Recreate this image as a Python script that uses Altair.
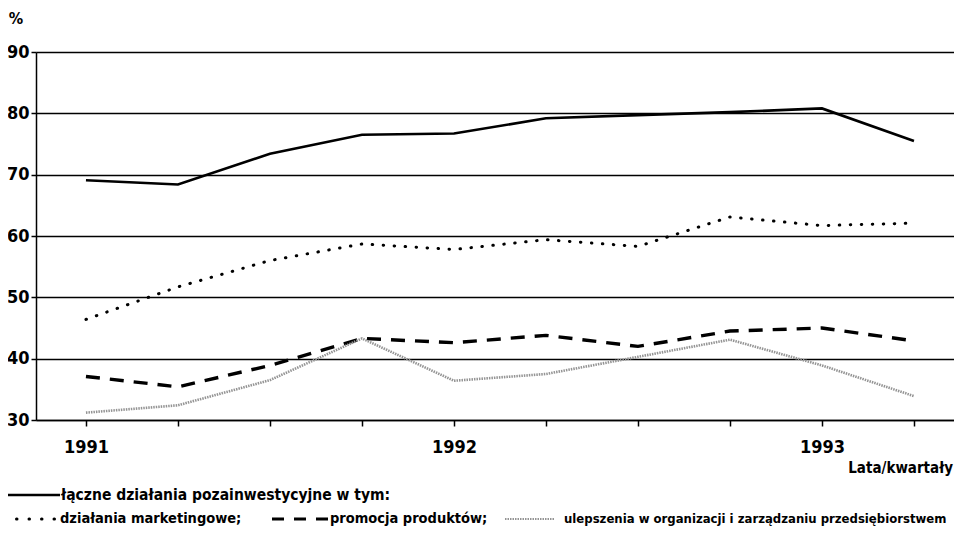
import altair as alt
import pandas as pd

quarters = list(range(10))  # 1991 Q1 ... 1993 Q2

total = [69.1, 68.4, 73.4, 76.5, 76.7, 79.2, 79.7, 80.2, 80.8, 75.5]
marketing = [46.4, 51.7, 56.0, 58.7, 57.8, 59.4, 58.3, 63.1, 61.7, 62.1]
promotion = [37.1, 35.4, 38.9, 43.3, 42.6, 43.8, 42.0, 44.5, 45.0, 42.9]
improvement = [31.2, 32.4, 36.5, 43.3, 36.4, 37.5, 40.3, 43.1, 38.9, 33.9]

legend_labels = [
    "łączne działania pozainwestycyjne w tym:",
    "działania marketingowe;",
    "promocja produktów;",
    "ulepszenia w organizacji i zarządzaniu przedsiębiorstwem",
]

FONT = "DejaVu Sans Condensed, DejaVu Sans, sans-serif"
W, H = 918, 368

x_scale = alt.Scale(domain=[-0.543, 9.435], nice=False, zero=False)
y_scale = alt.Scale(domain=[30, 90], nice=False, zero=False)

label_expr = "datum.value == 0 ? '1991' : datum.value == 4 ? '1992' : datum.value == 8 ? '1993' : ''"

x_enc = alt.X("q:Q", scale=x_scale, axis=alt.Axis(
    values=quarters, labelExpr=label_expr, title=None, grid=False,
    tickSize=6, tickWidth=1.5, tickColor="black", domainColor="black", domainWidth=1.5,
    labelFont=FONT, labelFontSize=18, labelFontWeight="bold", labelColor="black",
    labelPadding=12, labelFlush=False))
y_enc = alt.Y("v:Q", scale=y_scale, axis=alt.Axis(
    values=[30, 40, 50, 60, 70, 80, 90], title=None, grid=True,
    gridColor="black", gridWidth=1.5, gridOpacity=1,
    tickSize=5, tickWidth=1.5, tickColor="black", domainColor="black", domainWidth=1.5,
    labelFont=FONT, labelFontSize=18, labelFontWeight="bold", labelColor="black",
    labelPadding=2))


def series(vals):
    return pd.DataFrame({"q": quarters, "v": vals})


l_total = alt.Chart(series(total)).mark_line(color="black", strokeWidth=2.6).encode(x=x_enc, y=y_enc)
l_mark = alt.Chart(series(marketing)).mark_line(
    color="black", strokeWidth=3, strokeDash=[0.5, 10.5], strokeCap="round").encode(x="q:Q", y="v:Q")
l_prom = alt.Chart(series(promotion)).mark_line(
    color="black", strokeWidth=3.4, strokeDash=[14, 10]).encode(x="q:Q", y="v:Q")
l_impr = alt.Chart(series(improvement)).mark_line(
    color="#949494", strokeWidth=2.6, strokeDash=[1.5, 1]).encode(x="q:Q", y="v:Q")

# Offsets: plot origin sits at page (36, 52)
ox, oy = 36, 52


def txt(s, px, py, align="left", size=15):
    return alt.Chart(pd.DataFrame({"t": [s]})).mark_text(
        align=align, baseline="middle", font=FONT, fontSize=size, fontWeight="bold", color="black"
    ).encode(x=alt.value(px - ox), y=alt.value(py - oy), text="t:N")


def sample(x1, x2, py, **kw):
    return alt.Chart(pd.DataFrame({"a": [0]})).mark_rule(**kw).encode(
        x=alt.value(x1 - ox), x2=alt.value(x2 - ox), y=alt.value(py - oy))


leg = [
    sample(5, 60, 495, color="black", strokeWidth=2.6),
    txt(legend_labels[0], 61, 495, size=15.5),
    sample(4, 56, 519, color="black", strokeWidth=3, strokeDash=[0.5, 12], strokeCap="round"),
    txt(legend_labels[1], 60, 519, size=14.5),
    sample(272, 328, 519, color="black", strokeWidth=3, strokeDash=[12, 10]),
    txt(legend_labels[2], 330, 519, size=14.5),
    sample(505, 555, 519, color="#949494", strokeWidth=2, strokeDash=[1.5, 1]),
    txt(legend_labels[3], 564, 519, size=13),
    txt("%", 16, 19, align="center", size=16),
    txt("Lata/kwartały", 953, 468, align="right", size=15),
]

chart = alt.layer(l_total, l_mark, l_prom, l_impr, *leg).properties(
    width=W, height=H,
    autosize=alt.AutoSizeParams(type="none"),
    padding={"left": 28, "top": 44, "right": 0, "bottom": 108},
).configure_view(stroke="black", strokeWidth=1.5).configure(background="white")

chart.save("out.html", embed_options={"renderer": "svg", "actions": False})
